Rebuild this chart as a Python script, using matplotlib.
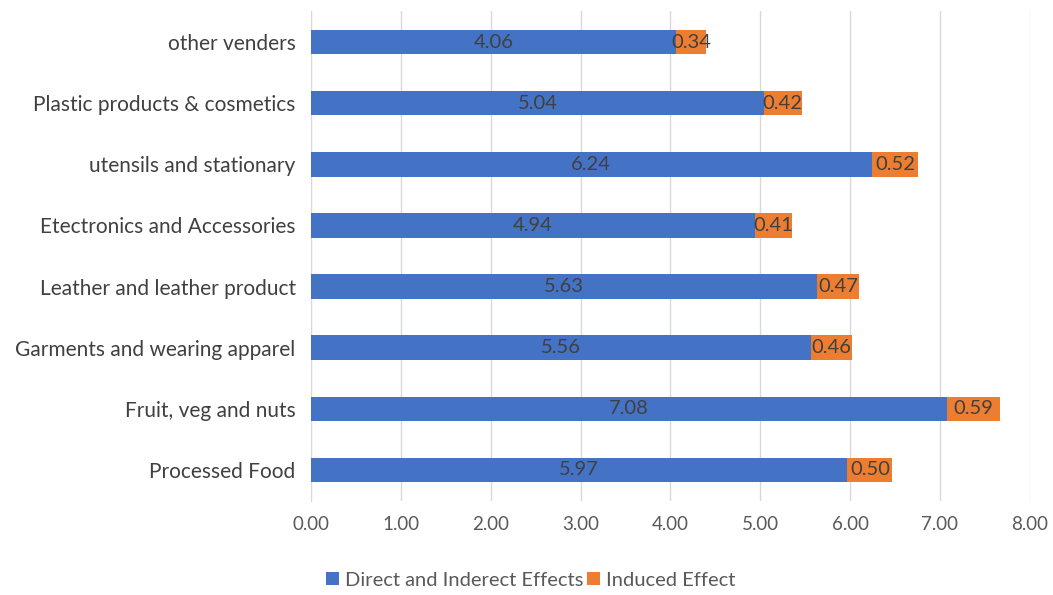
import matplotlib
matplotlib.use("Agg")
import matplotlib.pyplot as plt
import numpy as np

categories = ["Processed Food", "Fruit, veg and nuts", "Garments and wearing apparel",
              "Leather and leather product", "Etectronics and Accessories",
              "utensils and stationary", "Plastic products & cosmetics", "other venders"]
direct = [5.97, 7.08, 5.56, 5.63, 4.94, 6.24, 5.04, 4.06]
induced = [0.50, 0.59, 0.46, 0.47, 0.41, 0.52, 0.42, 0.34]
xticks = [0, 1, 2, 3, 4, 5, 6, 7, 8]

plt.rcParams['font.family'] = ['Lato', 'DejaVu Sans']

fig = plt.figure(figsize=(10.53, 5.95), dpi=100)
ax = fig.add_axes([0.2953, 0.1588, 0.6827, 0.8219])

y = np.arange(len(categories))
blue = "#4472C4"
orange = "#ED7D31"
b1 = ax.barh(y, direct, height=0.4, color=blue, label="Direct and Inderect Effects", zorder=3)
b2 = ax.barh(y, induced, left=direct, height=0.4, color=orange, label="Induced Effect", zorder=3)

for i in range(len(categories)):
    ax.text(direct[i] / 2, y[i], f"{direct[i]:.2f}", ha="center", va="center",
            fontsize=14.5, color="#404040", zorder=4)
    ax.text(direct[i] + induced[i] / 2, y[i], f"{induced[i]:.2f}", ha="center", va="center",
            fontsize=14.5, color="#404040", zorder=4)

ax.set_xlim(0, 8)
ax.set_ylim(-0.5, len(categories) - 0.5)
ax.set_xticks(xticks)
ax.set_xticklabels([f"{v:.2f}" for v in xticks], fontsize=13.5, color="#595959")
ax.set_yticks(y)
ax.set_yticklabels(categories, fontsize=15, color="#404040")
ax.tick_params(axis="x", length=0, pad=11)
ax.tick_params(axis="y", length=0, pad=11)
ax.grid(axis="x", color="#D9D9D9", linewidth=1, zorder=0)
for s in ["top", "right", "bottom"]:
    ax.spines[s].set_visible(False)
ax.spines["left"].set_color("#D9D9D9")

fig.legend(handles=[b1, b2], loc="center", bbox_to_anchor=(0.504, 0.025),
           ncol=2, frameon=False, fontsize=14.5, handlelength=0.65, handleheight=0.65,
           handletextpad=0.3, columnspacing=0.2, labelcolor="#595959")

fig.savefig("out.png", dpi=100)
